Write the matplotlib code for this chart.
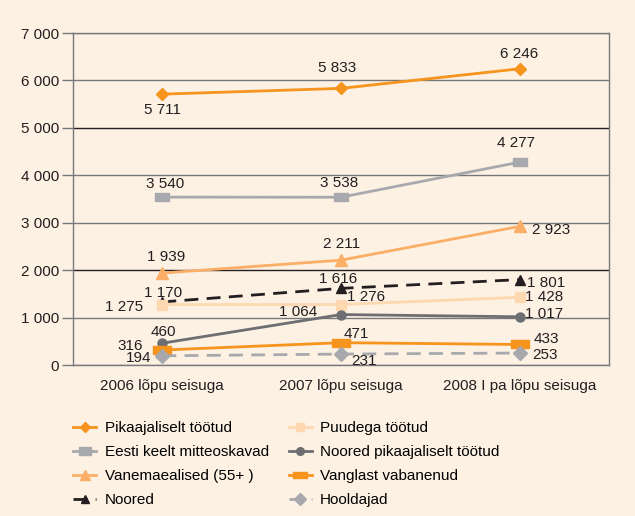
import matplotlib
matplotlib.use("Agg")
import matplotlib.pyplot as plt
from matplotlib.lines import Line2D

plt.rcParams['font.family'] = ['Liberation Sans', 'DejaVu Sans']

BG = "#FDF1E4"
ORANGE = "#F7941D"
LORANGE = "#FBAF66"
PEACH = "#FDD8B0"
GRAY = "#A7A9AC"
DGRAY = "#6D6E71"
BLACK = "#231F20"
GRID = "#77787B"

categories = ["2006 lõpu seisuga", "2007 lõpu seisuga", "2008 I pa lõpu seisuga"]
yticks = [0, 1000, 2000, 3000, 4000, 5000, 6000, 7000]
ytick_labels = ["0", "1 000", "2 000", "3 000", "4 000", "5 000", "6 000", "7 000"]

pikaajalised = [5711, 5833, 6246]
eesti = [3540, 3538, 4277]
vanemaealised = [1939, 2211, 2923]
noored = [1330, 1616, 1801]          # plotted position in the original
noored_labels = ["1 170", "1 616", "1 801"]  # printed labels in the original
puudega = [1275, 1276, 1428]
noored_pik = [460, 1064, 1017]
vanglast = [316, 471, 433]
hooldajad = [194, 231, 253]

def fmt(v):
    return f"{v:,}".replace(",", " ")

def rect(h):
    # h = height / width
    return [(-1, -h), (1, -h), (1, h), (-1, h), (-1, -h)]

series = [
    # name, values, labels, color, marker, ms, linestyle, label offsets (px)
    ("Pikaajaliselt töötud", pikaajalised, None, ORANGE, "D", 6, "-",
     [(0, -16, "center"), (-4, 20, "center"), (-1, 15, "center")]),
    ("Eesti keelt mitteoskavad", eesti, None, GRAY, rect(0.64), 10, "-",
     [(3, 13, "center"), (-2, 14, "center"), (-4, 19, "center")]),
    ("Vanemaealised (55+ )", vanemaealised, None, LORANGE, "^", 8, "-",
     [(4, 16, "center"), (1, 16, "center"), (12, -4, "left")]),
    ("Noored", noored, noored_labels, BLACK, "^", 7, (0, (5, 3)),
     [(1, 9, "center"), (-3, 9, "center"), (7, -3, "left")]),
    ("Puudega töötud", puudega, None, PEACH, "s", 7.5, "-",
     [(-19, -2, "right"), (6, 8, "left"), (5, 0, "left")]),
    ("Noored pikaajaliselt töötud", noored_pik, None, DGRAY, "o", 6.5, "-",
     [(1, 11, "center"), (-24, 3, "right"), (5, 3, "left")]),
    ("Vanglast vabanenud", vanglast, None, ORANGE, rect(0.42), 12.5, "-",
     [(-19, 4, "right"), (3, 9, "left"), (14, 5, "left")]),
    ("Hooldajad", hooldajad, None, GRAY, "D", 7, (0, (5, 3)),
     [(-11, -2, "right"), (10, -7, "left"), (13, -2, "left")]),
]

fig = plt.figure(figsize=(6.35, 5.16), dpi=100)
fig.patch.set_facecolor(BG)
ax = fig.add_axes([0.115, 0.2926, 0.844, 0.6434])
ax.set_facecolor(BG)

x = [0.5, 1.5, 2.5]
handles = []
for name, vals, labs, color, marker, ms, ls, offs in series:
    ax.plot(x, vals, color=color, lw=2, ls=ls, marker=marker,
            ms=ms, mfc=color, mec=color, zorder=3)
    handles.append(Line2D([], [], color=color, lw=2, ls=ls, marker=marker,
                          ms=ms * 0.85, mfc=color, mec=color))
    for i, v in enumerate(vals):
        txt = labs[i] if labs else fmt(v)
        dx, dy, ha = offs[i]
        ax.annotate(txt, (x[i], v), xytext=(dx, dy), textcoords="offset pixels",
                    ha=ha, va="center", fontsize=11, color=BLACK, zorder=4)

ax.set_xlim(0, 3)
ax.set_ylim(0, 7000)
ax.set_xticks(x)
ax.set_xticklabels(categories, fontsize=11, color=BLACK)
ax.set_yticks(yticks)
ax.set_yticklabels(ytick_labels, fontsize=11, color=BLACK)
ax.tick_params(axis="x", length=0, pad=10)
ax.tick_params(axis="y", length=8, width=1, color=GRID, pad=2)
ax.grid(axis="y", color=GRID, lw=1, zorder=1)
for val, gl in zip(yticks, ax.get_ygridlines()):
    if val in (2000, 5000):
        gl.set_color(BLACK)
for s in ax.spines.values():
    s.set_color(GRID)
    s.set_linewidth(1)

fig.legend(handles, [s[0] for s in series], ncol=2, loc="upper left",
           bbox_to_anchor=(0.094, 0.211), frameon=False, fontsize=11,
           handlelength=1.5, handletextpad=0.55, columnspacing=1.3,
           labelspacing=0.66)

fig.savefig("out.png", dpi=100, facecolor=BG)
